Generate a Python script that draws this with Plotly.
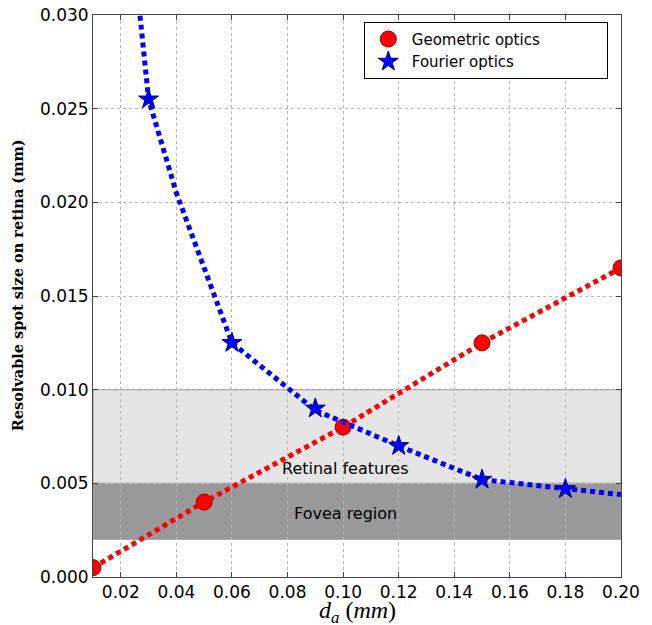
import plotly.graph_objects as go

# Geometric optics (markers + straight dotted line)
geo_x = [0.01, 0.05, 0.10, 0.15, 0.20]
geo_y = [0.0005, 0.0040, 0.0080, 0.0125, 0.0165]

# Fourier optics markers
four_x = [0.03, 0.06, 0.09, 0.12, 0.15, 0.18]
four_y = [0.0255, 0.0125, 0.0090, 0.0070, 0.0052, 0.0047]

# Fourier optics curve (dotted line)
four_line_x = [0.02, 0.03, 0.04, 0.05, 0.06, 0.09, 0.12, 0.15, 0.18, 0.20]
four_line_y = [0.0400, 0.0255, 0.0205, 0.0165, 0.0125, 0.0089, 0.0070, 0.0052, 0.0047, 0.0044]

# Shaded regions: (low, high, label)
bands_low = [0.005, 0.002]
bands_high = [0.010, 0.005]
bands_label = ["Retinal features", "Fovea region"]
bands_label_y = [0.0058, 0.0034]
label_x = 0.101

x_ticks = [0.02, 0.04, 0.06, 0.08, 0.10, 0.12, 0.14, 0.16, 0.18, 0.20]
y_ticks = [0.000, 0.005, 0.010, 0.015, 0.020, 0.025, 0.030]

pad = "&nbsp;" * 13

fig = go.Figure()

fig.add_trace(go.Scatter(
    x=geo_x, y=geo_y, mode="lines", name="Geometric optics",
    legendgroup="g", showlegend=False,
    line=dict(color="#ff0000", width=5, dash="5px,4px"),
))
fig.add_trace(go.Scatter(
    x=geo_x, y=geo_y, mode="markers", name="Geometric optics" + pad,
    legendgroup="g",
    marker=dict(symbol="circle", size=16, color="#ff0000",
                line=dict(color="#990000", width=1)),
))
fig.add_trace(go.Scatter(
    x=four_line_x, y=four_line_y, mode="lines", name="Fourier optics",
    legendgroup="f", showlegend=False,
    line=dict(color="#0000ff", width=5, dash="5px,4px"),
))
fig.add_trace(go.Scatter(
    x=four_x, y=four_y, mode="lines+markers", name="Fourier optics",
    legendgroup="f",
    line=dict(color="#0000ff", width=0.001),
    marker=dict(symbol="star", size=15, color="#0000ff",
                line=dict(color="#000080", width=1)),
))

band_fill = ["#e5e5e5", "#999999"]
band_edge = ["#888888", "#aaaaaa"]
for lo, hi, fc, ec in zip(bands_low, bands_high, band_fill, band_edge):
    fig.add_shape(type="rect", xref="x", yref="y", x0=0.01, x1=0.20, y0=lo, y1=hi,
                  fillcolor=fc, line=dict(color=ec, width=1), layer="below")

for lab, ly in zip(bands_label, bands_label_y):
    fig.add_annotation(x=label_x, y=ly, xref="x", yref="y", text=lab, showarrow=False,
                       font=dict(family="DejaVu Sans", size=16, color="black"))

# Axis titles as annotations for precise placement
fig.add_annotation(x=0.5, y=-0.063, xref="paper", yref="paper", xanchor="center", yanchor="middle",
                   text="<i>d</i><sub><i>a</i></sub> (<i>mm</i>)", showarrow=False,
                   font=dict(family="Liberation Serif", size=24, color="black"))
fig.add_annotation(x=-0.143, y=0.52, xref="paper", yref="paper", xanchor="center", yanchor="middle",
                   text="<b>Resolvable spot size on retina (mm)</b>", showarrow=False, textangle=-90,
                   font=dict(family="DejaVu Serif", size=14.5, color="black"))

axis_common = dict(
    showgrid=True, gridcolor="#b8b8b8", gridwidth=1, griddash="dot",
    showline=True, linecolor="#444444", linewidth=1, mirror="ticks",
    ticks="inside", ticklen=5, tickcolor="#444444", zeroline=False,
    automargin=False, ticklabeloverflow="allow",
    tickfont=dict(family="DejaVu Sans", size=17, color="black"),
)

fig.update_xaxes(range=[0.01, 0.20], tickvals=x_ticks,
                 ticktext=[f"{v:.2f}" for v in x_ticks], **axis_common)
fig.update_yaxes(range=[0, 0.030], tickvals=y_ticks,
                 ticktext=[f"{v:.3f}" for v in y_ticks], **axis_common)

fig.update_layout(
    width=644, height=617,
    margin=dict(l=85, r=31, t=7, b=48),
    paper_bgcolor="white", plot_bgcolor="white",
    showlegend=True,
    legend=dict(x=0.975, y=0.988, xanchor="right", yanchor="top",
                bgcolor="white", bordercolor="black", borderwidth=1,
                font=dict(family="DejaVu Sans", size=15, color="black"),
                tracegroupgap=0, itemwidth=37),
)

fig.write_html("out.html")
